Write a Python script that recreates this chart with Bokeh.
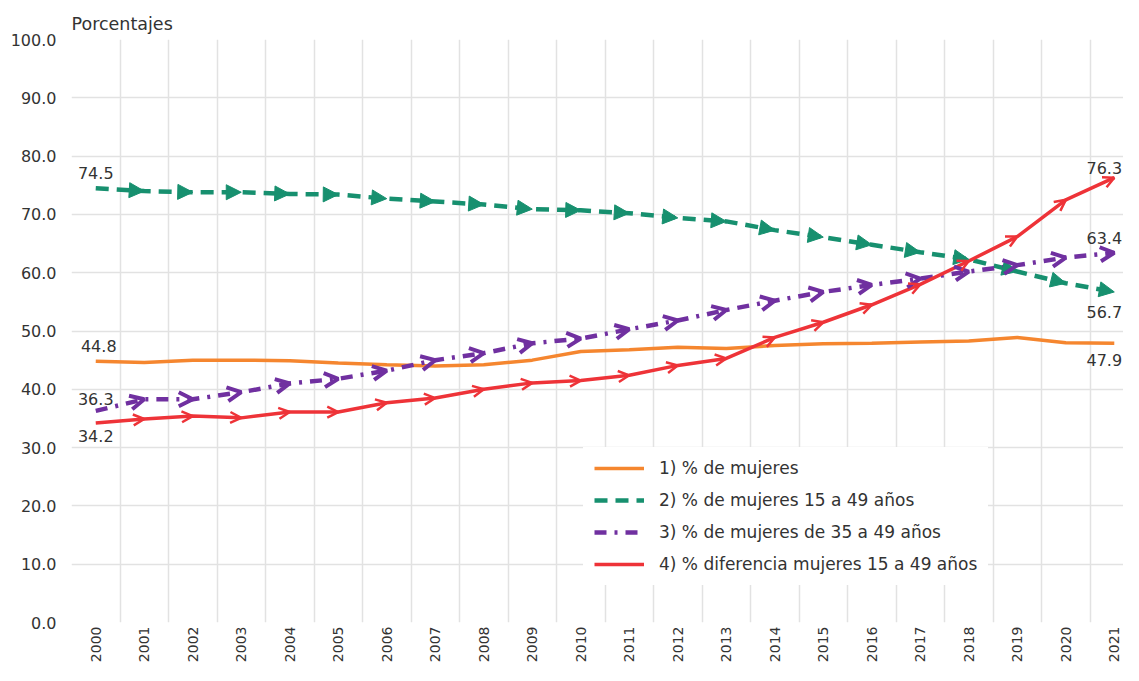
import math
from bokeh.plotting import figure
from bokeh.models import (ColumnDataSource, Range1d, FixedTicker, PrintfTickFormatter,
                          Arrow, NormalHead, OpenHead, Legend, LegendItem, Label)
from bokeh.embed import file_html
from bokeh.resources import INLINE

# ---------------- data ----------------
years = list(range(2000, 2022))
year_labels = [str(y) for y in years]
pct_mujeres = [44.8, 44.6, 45.0, 45.0, 44.9, 44.5, 44.2, 44.0, 44.2, 45.0, 46.5,
               46.8, 47.2, 47.0, 47.5, 47.8, 47.9, 48.1, 48.3, 48.9, 48.0, 47.9]
pct_15_49 = [74.5, 74.0, 73.8, 73.8, 73.5, 73.4, 72.7, 72.2, 71.7, 70.9, 70.7,
             70.2, 69.4, 68.8, 67.3, 66.1, 64.8, 63.5, 62.3, 60.2, 58.2, 56.7]
pct_35_49 = [36.3, 38.3, 38.3, 39.5, 41.0, 41.8, 43.2, 45.0, 46.2, 47.9, 48.7,
             50.3, 51.8, 53.6, 55.2, 56.7, 57.9, 59.0, 60.2, 61.3, 62.6, 63.4]
pct_dif = [34.2, 34.9, 35.4, 35.1, 36.1, 36.1, 37.7, 38.5, 40.0, 41.1, 41.5,
           42.4, 44.1, 45.3, 48.9, 51.5, 54.5, 58.0, 62.0, 66.2, 72.5, 76.3]
series_names = ["1) % de mujeres",
                "2) % de mujeres 15 a 49 años",
                "3) % de mujeres de 35 a 49 años",
                "4) % diferencia mujeres 15 a 49 años"]
y_ticks = list(range(0, 101, 10))
axis_title = "Porcentajes"

# ---------------- style ----------------
FONT = "DejaVu Sans"
TXT = "#333333"
C_OR = "#F5862F"
C_GR = "#17906F"
C_PU = "#7030A0"
C_RD = "#EE3338"
GRID = "#E2E2E2"

p = figure(width=1123, height=665, output_backend="svg", toolbar_location=None,
           x_range=Range1d(1999.5, 2021.19), y_range=Range1d(0, 100),
           min_border_left=71, min_border_right=0, min_border_top=39,
           min_border_bottom=40, background_fill_color="white",
           border_fill_color="white")
p.outline_line_color = None

p.title.text = axis_title
p.title.align = "left"
p.title.text_font = FONT
p.title.text_font_size = "17.5px"
p.title.text_font_style = "normal"
p.title.text_color = TXT
p.title.standoff = 12
p.title.offset = 0

# axes
p.yaxis.ticker = FixedTicker(ticks=y_ticks)
p.yaxis.formatter = PrintfTickFormatter(format="%.1f")
p.xaxis.ticker = FixedTicker(ticks=years)
p.xaxis.major_label_overrides = {y: s for y, s in zip(years, year_labels)}
p.xaxis.major_label_orientation = math.pi / 2
for ax in (p.xaxis, p.yaxis):
    ax.axis_line_color = None
    ax.major_tick_line_color = None
    ax.minor_tick_line_color = None
    ax.major_tick_out = 0
    ax.major_tick_in = 0
    ax.major_label_text_font = FONT
    ax.major_label_text_font_size = "16px"
    ax.major_label_text_color = TXT
p.xaxis.major_label_text_font_size = "14px"
p.yaxis.major_label_standoff = 15
p.xaxis.major_label_standoff = 4

# grids
p.ygrid.ticker = FixedTicker(ticks=y_ticks)
p.xgrid.ticker = FixedTicker(ticks=[y - 0.5 for y in years] + [years[-1] + 0.5])
p.xgrid.grid_line_color = GRID
p.ygrid.grid_line_color = GRID
p.xgrid.grid_line_width = 1.5
p.ygrid.grid_line_width = 1.5

# lines
r1 = p.line(years, pct_mujeres, line_color=C_OR, line_width=3.5)
r2 = p.line(years, pct_15_49, line_color=C_GR, line_width=4.5, line_dash="13 8")
r3 = p.line(years, pct_35_49, line_color=C_PU, line_width=4.5, line_dash="12 8 3 8")
r4 = p.line(years, pct_dif, line_color=C_RD, line_width=3.5)


def seg_source(vals):
    return ColumnDataSource(dict(x0=years[:-1], y0=vals[:-1], x1=years[1:], y1=vals[1:]))


p.add_layout(Arrow(end=NormalHead(size=15, fill_color=C_GR, line_color=C_GR, line_width=1),
                   x_start="x0", y_start="y0", x_end="x1", y_end="y1",
                   source=seg_source(pct_15_49), line_alpha=0))
p.add_layout(Arrow(end=OpenHead(size=14, line_color=C_PU, line_width=4),
                   x_start="x0", y_start="y0", x_end="x1", y_end="y1",
                   source=seg_source(pct_35_49), line_alpha=0))
p.add_layout(Arrow(end=OpenHead(size=11, line_color=C_RD, line_width=2.5),
                   x_start="x0", y_start="y0", x_end="x1", y_end="y1",
                   source=seg_source(pct_dif), line_alpha=0))

# value labels (first and last points)
def add_label(x, y, xo, yo):
    p.add_layout(Label(x=x, y=y, text=f"{y:.1f}", x_offset=xo, y_offset=yo,
                       text_align="center", text_baseline="middle",
                       text_font=FONT, text_font_size="16px", text_color=TXT))

add_label(years[0], pct_15_49[0], 0, 15)
add_label(years[0], pct_mujeres[0], 3, 15)
add_label(years[0], pct_35_49[0], 0, 12)
add_label(years[0], pct_dif[0], 0, -13)
add_label(years[-1], pct_dif[-1], -10, 10)
add_label(years[-1], pct_35_49[-1], -10, 15)
add_label(years[-1], pct_15_49[-1], -10, -20)
add_label(years[-1], pct_mujeres[-1], -10, -17)

legend = Legend(items=[LegendItem(label=n, renderers=[r]) for n, r in
                       zip(series_names, [r1, r2, r3, r4])],
                location=(512, 37))
legend.label_text_font = FONT
legend.label_text_font_size = "17px"
legend.label_text_color = TXT
legend.glyph_width = 50
legend.glyph_height = 20
legend.label_height = 20
legend.spacing = 12
legend.padding = 11
legend.margin = 0
legend.label_standoff = 15
legend.border_line_alpha = 0
legend.background_fill_color = "white"
legend.background_fill_alpha = 1
p.add_layout(legend)

open("out.html", "w").write(file_html(p, INLINE))
